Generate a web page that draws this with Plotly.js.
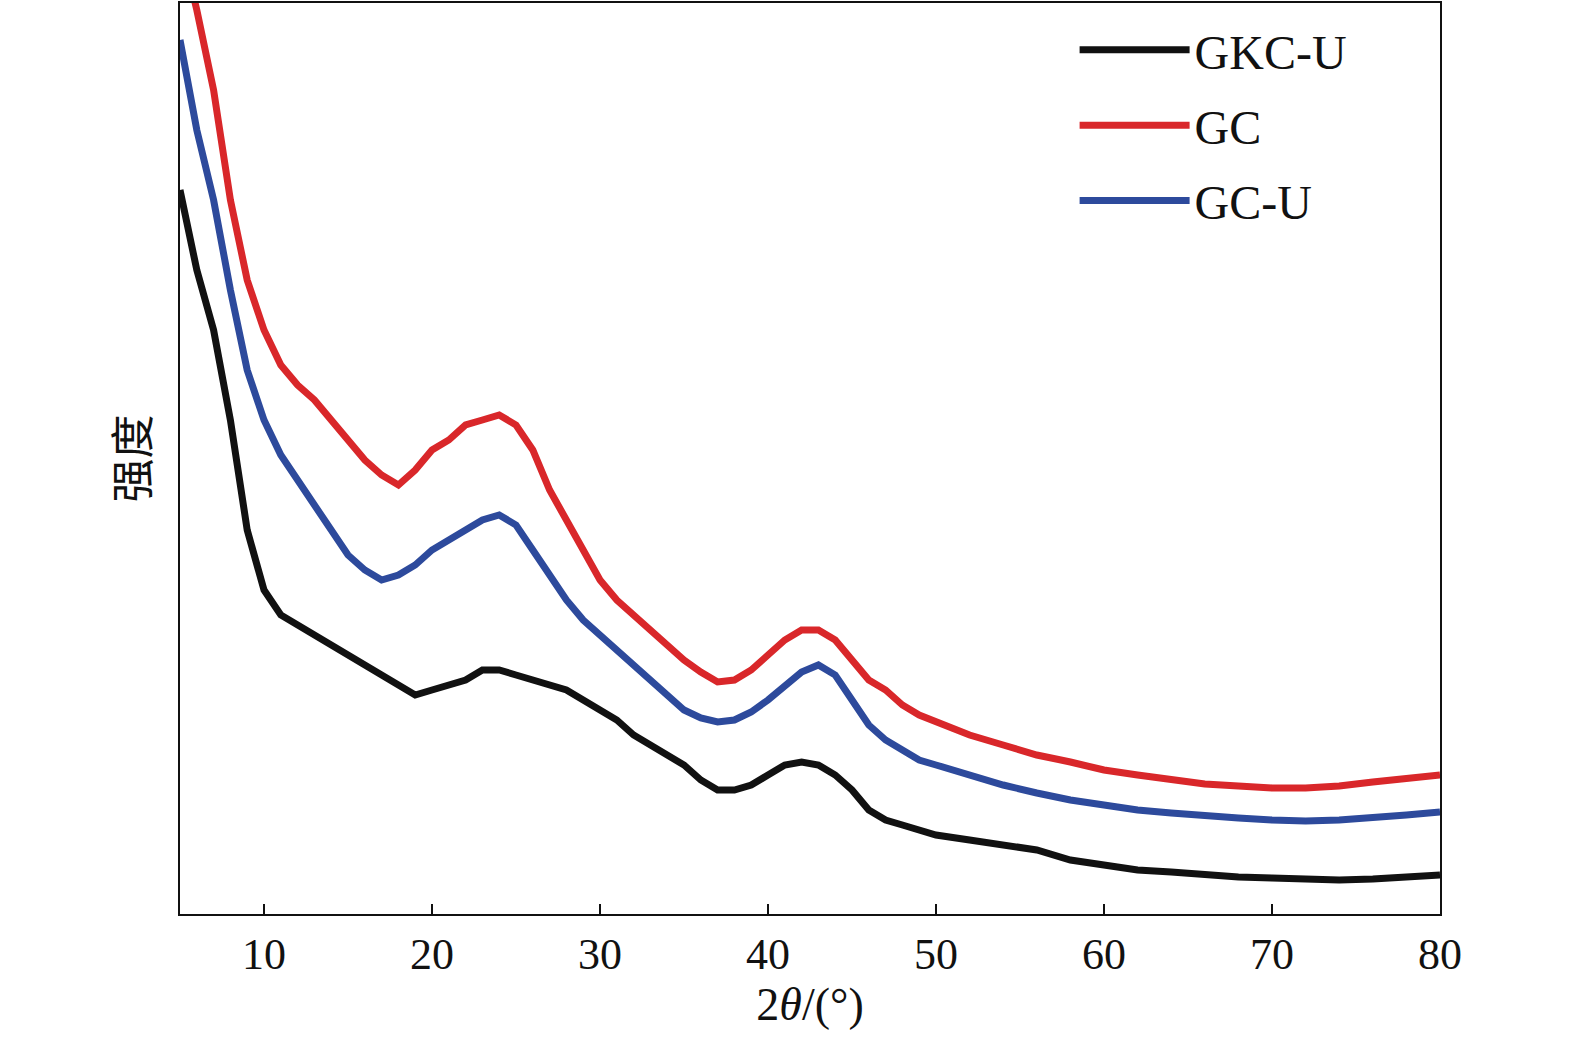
<!DOCTYPE html>
<html><head><meta charset="utf-8">
<script src="https://cdn.plot.ly/plotly-3.0.1.min.js"></script>
<style>body{margin:0;background:#fff}</style>
</head><body>
<div id="chart" style="width:1575px;height:1063px"></div>
<script>
// 2theta positions (deg) and intensities (arb. units)
const angle = [5,6,7,8,9,10,11,12,13,14,15,16,17,18,19,20,21,22,23,24,25,26,27,28,29,30,31,32,33,34,35,36,37,38,39,40,41,42,43,44,45,46,47,48,49,50,52,54,56,58,60,62,64,66,68,70,72,74,76,78,80];
const gkcU = [724,644,584,494,384,324,299,289,279,269,259,249,239,229,219,224,229,234,244,244,239,234,229,224,214,204,194,179,169,159,149,134,124,124,129,139,149,152,149,139,124,104,94,89,84,79,74,69,64,54,49,44,42,39,37,36,35,34,35,37,39];
const gc = [974,904,824,714,634,584,549,529,514,494,474,454,439,429,444,464,474,489,494,499,489,464,424,394,364,334,314,299,284,269,254,242,232,234,244,259,274,284,284,274,254,234,224,209,199,192,179,169,159,152,144,139,134,130,128,126,126,128,132,136,139];
const gcU = [874,784,714,624,544,494,459,434,409,384,359,344,334,339,349,364,374,384,394,399,389,364,339,314,294,279,264,249,234,219,204,196,192,194,202,214,229,242,249,239,214,189,174,164,154,149,139,129,121,114,109,104,101,98,96,94,93,94,96,99,102];

const series = [
  {name: 'GKC-U', y: gkcU, color: '#111111'},
  {name: 'GC', y: gc, color: '#d9272a'},
  {name: 'GC-U', y: gcU, color: '#2d4a9c'}
];
const traces = series.map((s, i) => ({
  x: angle, y: s.y, name: s.name, legendgroup: s.name, legendrank: i + 1,
  type: 'scatter', mode: 'lines',
  line: {color: s.color, width: 7}
}));
traces.reverse();

const layout = {
  margin: {l: 180, r: 135, t: 3, b: 149},
  paper_bgcolor: '#fff', plot_bgcolor: '#fff',
  font: {family: 'Liberation Serif, serif', size: 44, color: '#111'},
  showlegend: true,
  legend: {x: 0.71, y: 0.99, xanchor: 'left', yanchor: 'top', traceorder: 'grouped',
    tracegroupgap: 10, bgcolor: 'rgba(0,0,0,0)', font: {size: 48}, itemwidth: 110},
  xaxis: {
    range: [5, 80], tickvals: [10,20,30,40,50,60,70,80],
    ticks: 'inside', ticklen: 10, tickwidth: 2, tickcolor: '#111',
    showline: true, linecolor: '#111', linewidth: 2, mirror: true,
    showgrid: false, zeroline: false,
    title: {text: '2<i>θ</i>/(°)', font: {size: 46}, standoff: 10}
  },
  yaxis: {
    range: [0, 911], showticklabels: false, ticks: '',
    showline: true, linecolor: '#111', linewidth: 2, mirror: true,
    showgrid: false, zeroline: false,
    title: {text: '强度', font: {family: 'Noto Sans CJK SC', size: 44}, standoff: 15}
  }
};
Plotly.newPlot('chart', traces, layout, {displayModeBar: false});
</script>
</body></html>
